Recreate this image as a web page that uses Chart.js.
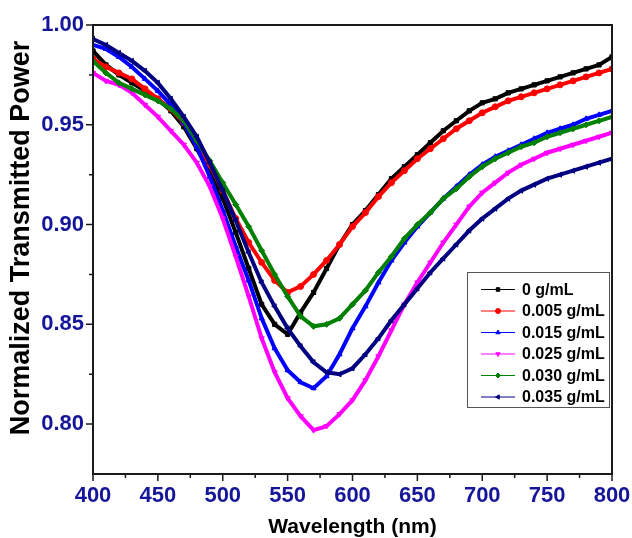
<!DOCTYPE html>
<html>
<head>
<meta charset="utf-8">
<script src="https://cdn.jsdelivr.net/npm/chart.js@4.4.1/dist/chart.umd.min.js"></script>
<style>
html, body { margin: 0; padding: 0; background: #fff; }
#wrap { width: 632px; height: 538px; }
</style>
</head>
<body>
<div id="wrap"><canvas id="chart" width="632" height="538"></canvas></div>
<script>
// wavelength grid (nm)
const wavelengths = [400, 410, 420, 430, 440, 450, 460, 470, 480, 490,
  500, 510, 520, 530, 540, 550, 560, 570, 580, 590,
  600, 610, 620, 630, 640, 650, 660, 670, 680, 690,
  700, 710, 720, 730, 740, 750, 760, 770, 780, 790, 800];

const seriesLabels = ['0 g/mL', '0.005 g/mL', '0.015 g/mL', '0.025 g/mL', '0.030 g/mL', '0.035 g/mL'];

// normalized transmitted power
const conc000 = [0.987, 0.980, 0.975, 0.971, 0.967, 0.963, 0.957, 0.949, 0.938, 0.926,
  0.913, 0.896, 0.878, 0.860, 0.850, 0.845, 0.856, 0.866, 0.878, 0.890,
  0.900, 0.907, 0.915, 0.923, 0.929, 0.935, 0.941, 0.947, 0.952, 0.957,
  0.961, 0.963, 0.966, 0.968, 0.970, 0.972, 0.974, 0.976, 0.978, 0.980, 0.984];
const conc005 = [0.983, 0.979, 0.976, 0.973, 0.968, 0.963, 0.958, 0.951, 0.940, 0.930,
  0.917, 0.903, 0.891, 0.881, 0.872, 0.866, 0.869, 0.875, 0.882, 0.890,
  0.899, 0.906, 0.914, 0.921, 0.927, 0.933, 0.938, 0.943, 0.948, 0.952,
  0.956, 0.959, 0.962, 0.964, 0.966, 0.968, 0.970, 0.972, 0.974, 0.976, 0.978];
const conc015 = [0.990, 0.988, 0.984, 0.979, 0.973, 0.967, 0.960, 0.951, 0.939, 0.924,
  0.907, 0.889, 0.872, 0.853, 0.838, 0.827, 0.821, 0.818, 0.824, 0.835,
  0.848, 0.859, 0.871, 0.882, 0.891, 0.899, 0.906, 0.913, 0.919, 0.925,
  0.930, 0.934, 0.937, 0.940, 0.943, 0.946, 0.948, 0.950, 0.953, 0.955, 0.957];
const conc025 = [0.976, 0.972, 0.970, 0.966, 0.960, 0.954, 0.947, 0.940, 0.931, 0.919,
  0.903, 0.884, 0.864, 0.843, 0.826, 0.813, 0.804, 0.797, 0.799, 0.805,
  0.812, 0.822, 0.834, 0.847, 0.860, 0.871, 0.881, 0.891, 0.900, 0.909,
  0.916, 0.921, 0.926, 0.930, 0.933, 0.936, 0.938, 0.940, 0.942, 0.944, 0.946];
const conc030 = [0.982, 0.976, 0.971, 0.968, 0.965, 0.962, 0.958, 0.952, 0.942, 0.932,
  0.921, 0.910, 0.899, 0.887, 0.875, 0.864, 0.854, 0.849, 0.850, 0.853,
  0.860, 0.867, 0.876, 0.884, 0.893, 0.900, 0.906, 0.913, 0.918, 0.924,
  0.929, 0.933, 0.936, 0.939, 0.941, 0.944, 0.946, 0.948, 0.950, 0.952, 0.954];
const conc035 = [0.993, 0.990, 0.986, 0.982, 0.977, 0.971, 0.963, 0.954, 0.944, 0.931,
  0.917, 0.902, 0.886, 0.871, 0.859, 0.848, 0.839, 0.831, 0.826, 0.825,
  0.828, 0.835, 0.843, 0.852, 0.860, 0.868, 0.876, 0.883, 0.890, 0.897,
  0.903, 0.908, 0.913, 0.917, 0.920, 0.923, 0.925, 0.927, 0.929, 0.931, 0.933];

const xTickValues = [400, 450, 500, 550, 600, 650, 700, 750, 800];
const yTickValues = [0.80, 0.85, 0.90, 0.95, 1.00];
const xMinorValues = [425, 475, 525, 575, 625, 675, 725, 775];
const yMinorValues = [0.825, 0.875, 0.925, 0.975];

const FONT = 'Arial, "Liberation Sans", Helvetica, sans-serif';
const TICK_COLOR = '#16169a';

const allSeries = [conc000, conc005, conc015, conc025, conc030, conc035];
const colors = ['#000000', '#ff0000', '#0000ff', '#ff00ff', '#008000', '#000080'];
const markers = [
  { style: 'rect', rot: 0 },
  { style: 'circle', rot: 0 },
  { style: 'triangle', rot: 0 },
  { style: 'triangle', rot: 180 },
  { style: 'rectRot', rot: 0 },
  { style: 'triangle', rot: -90 }
];

const datasets = allSeries.map((vals, i) => ({
  label: seriesLabels[i],
  data: wavelengths.map((w, j) => ({ x: w, y: vals[j] })),
  borderColor: colors[i],
  backgroundColor: colors[i],
  borderWidth: 4,
  pointStyle: markers[i].style,
  pointRotation: markers[i].rot,
  pointRadius: 3,
  pointBorderWidth: 1,
  tension: 0,
  order: 5 - i
}));

// frame, outward ticks, axis titles and the boxed legend
const decorations = {
  id: 'decorations',
  afterDraw(chart) {
    const { ctx, chartArea: a, scales } = chart;
    const x = scales.x, y = scales.y;
    ctx.save();
    ctx.strokeStyle = '#1a1a1a';
    ctx.lineWidth = 2;
    ctx.strokeRect(a.left, a.top, a.right - a.left, a.bottom - a.top);

    ctx.lineWidth = 1.5;
    ctx.beginPath();
    xTickValues.forEach(v => { const px = x.getPixelForValue(v); ctx.moveTo(px, a.bottom); ctx.lineTo(px, a.bottom + 7); });
    xMinorValues.forEach(v => { const px = x.getPixelForValue(v); ctx.moveTo(px, a.bottom); ctx.lineTo(px, a.bottom + 4); });
    yTickValues.forEach(v => { const py = y.getPixelForValue(v); ctx.moveTo(a.left, py); ctx.lineTo(a.left - 7, py); });
    yMinorValues.forEach(v => { const py = y.getPixelForValue(v); ctx.moveTo(a.left, py); ctx.lineTo(a.left - 4, py); });
    ctx.stroke();

    // axis titles
    ctx.fillStyle = '#000';
    ctx.textAlign = 'center';
    ctx.textBaseline = 'middle';
    ctx.font = 'bold 21px ' + FONT;
    ctx.fillText('Wavelength (nm)', (a.left + a.right) / 2, 527);
    ctx.save();
    ctx.translate(22, 238);
    ctx.rotate(-Math.PI / 2);
    ctx.font = 'bold 27px ' + FONT;
    ctx.fillText('Normalized Transmitted Power', 0, 0);
    ctx.restore();

    // legend box
    const bx = 467, by = 272, bw = 142, bh = 135;
    ctx.fillStyle = '#fff';
    ctx.fillRect(bx, by, bw, bh);
    ctx.strokeStyle = '#555';
    ctx.lineWidth = 1;
    ctx.strokeRect(bx + 0.5, by + 0.5, bw, bh);
    ctx.font = 'bold 16px ' + FONT;
    ctx.textAlign = 'left';
    chart.data.datasets.forEach((ds, i) => {
      const ry = 289.5 + i * 21.5;
      ctx.strokeStyle = ds.borderColor;
      ctx.lineWidth = 1;
      ctx.beginPath();
      ctx.moveTo(481, ry);
      ctx.lineTo(515, ry);
      ctx.stroke();
      ctx.fillStyle = ds.borderColor;
      Chart.helpers.drawPoint(ctx, {
        pointStyle: ds.pointStyle, radius: 2.5, rotation: ds.pointRotation, borderWidth: 1
      }, 498, ry);
      ctx.fillStyle = '#000';
      ctx.fillText(ds.label, 522, ry + 1);
    });
    ctx.restore();
  }
};

const tickFont = { family: FONT, size: 22, weight: 'bold' };

new Chart(document.getElementById('chart'), {
  type: 'line',
  data: { datasets: datasets },
  options: {
    responsive: false,
    animation: false,
    layout: { padding: { top: 25, right: 20, left: 0, bottom: 0 } },
    plugins: { legend: { display: false }, tooltip: { enabled: false } },
    scales: {
      x: {
        type: 'linear',
        min: 400,
        max: 800,
        afterFit: s => { s.height = 64; s.paddingLeft = 0; s.paddingRight = 0; },
        afterBuildTicks: s => { s.ticks = xTickValues.map(v => ({ value: v })); },
        ticks: { color: TICK_COLOR, font: tickFont, padding: 9, maxRotation: 0, autoSkip: false },
        grid: { display: false, drawTicks: false },
        border: { display: false }
      },
      y: {
        type: 'linear',
        min: 0.775,
        max: 1.0,
        afterFit: s => { s.width = 93; s.paddingTop = 0; s.paddingBottom = 0; },
        afterBuildTicks: s => { s.ticks = yTickValues.map(v => ({ value: v })); },
        ticks: { color: TICK_COLOR, font: tickFont, padding: 9, callback: v => v.toFixed(2) },
        grid: { display: false, drawTicks: false },
        border: { display: false }
      }
    }
  },
  plugins: [decorations]
});
</script>
</body>
</html>
